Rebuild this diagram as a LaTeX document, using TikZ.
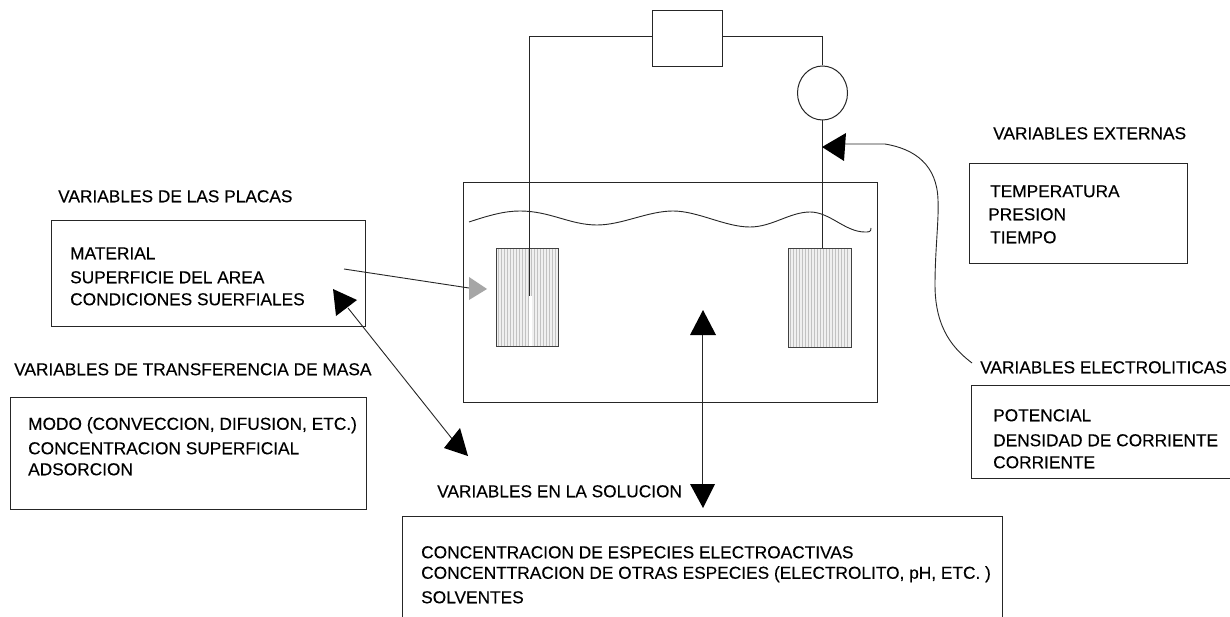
\documentclass[tikz,border=0pt]{standalone}
\usepackage{fontspec}
\setmainfont{Liberation Sans}[FakeBold=0.2]
\usetikzlibrary{calc,shapes.geometric}
\tikzset{
  x=1pt,y=-1pt,
  wire/.style={draw=black!85,line width=1pt},
  thin wire/.style={draw=black!85,line width=0.9pt},
  boxed/.style={draw=black!85,line width=1pt,inner sep=0,anchor=north west},
  lbl/.style={anchor=west,inner sep=0,yshift=-0.3pt,font=\fontsize{17.3}{19}\selectfont,text=black},
  head/.style={fill=black,draw=none},
  plate/.style={draw=black!75,line width=1pt},
  hatch/.style={draw=black!24,line width=1.5pt},
}
\begin{document}
\begin{tikzpicture}
\useasboundingbox (0,0) rectangle (1230,617);
\fill[white] (0,0) rectangle (1230,617);

% plates
\fill[black!6] (496.5,248.5) rectangle (558.5,346.5);
\fill[black!6] (788.5,248.5) rectangle (851.5,347.5);
\foreach \k in {2,5,...,60}{\draw[hatch] ({496.5+\k},248.5) -- ({496.5+\k},346.5);}
\foreach \k in {2,5,...,60}{\draw[hatch] ({788.5+\k},248.5) -- ({788.5+\k},347.5);}
\fill[white] (529,296) rectangle (531.5,346);
\draw[plate] (496.5,248.5) rectangle (558.5,346.5);
\draw[plate] (788.5,248.5) rectangle (851.5,347.5);
% cell and circuit
\node[boxed,minimum width=414pt,minimum height=219pt] (cell) at (462.5,182.5) {};
\node[boxed,minimum width=70pt,minimum height=56pt] (source) at (651.5,10.5) {};
\node[draw=black!85,line width=1pt,ellipse,minimum width=50pt,minimum height=54pt,inner sep=0] (meter) at (822.5,93) {};
\coordinate (platea) at (529.5,296);
\coordinate (plateb) at (822.5,248.5);
\coordinate (corna) at (529.5,36.5);
\coordinate (cornb) at (822.5,36.5);
\draw[wire] (source.west |- corna) -- (corna) -- (platea);
\draw[wire] (source.east |- cornb) -- (cornb) -- (meter.north);
\draw[wire] (meter.south) -- (plateb);
% liquid level
\coordinate (w0) at (469,222);
\coordinate (w1) at (871,228);
\draw[thin wire] (w0) .. controls (490,215) and (505,211) .. (520,211)
  .. controls (550,211) and (570,225) .. (597,225)
  .. controls (622,225) and (648,211) .. (673,211)
  .. controls (698,211) and (725,227) .. (750,227)
  .. controls (772,227) and (790,212) .. (810,212)
  .. controls (830,212) and (845,232) .. (865,232)
  .. controls (869,232) and (871,232) .. (w1);

% labels
\node[lbl] (tplacas) at (58,196) {VARIABLES DE LAS PLACAS};
\node[boxed,minimum width=314pt,minimum height=105pt] (bplacas) at (50.5,220.5) {};
\node[lbl] (p1) at (70,253) {MATERIAL};
\node[lbl] (p2) at (70,277) {SUPERFICIE DEL AREA};
\node[lbl] (p3) at (70,299) {CONDICIONES SUERFIALES};

\node[lbl] (tmasa) at (14,369) {VARIABLES DE TRANSFERENCIA DE MASA};
\node[boxed,minimum width=356pt,minimum height=112pt] (bmasa) at (9.5,396.5) {};
\node[lbl] (m1) at (28,425) {MODO (CONVECCION, DIFUSION, ETC.)};
\node[lbl] (m2) at (28,448) {CONCENTRACION SUPERFICIAL};
\node[lbl] (m3) at (28,469) {ADSORCION};

\node[lbl] (tsol) at (437,491) {VARIABLES EN LA SOLUCION};
\coordinate (s0) at (402.5,617);
\coordinate (s1) at (402.5,516.5);
\coordinate (s2) at (1002.5,516.5);
\coordinate (s3) at (1002.5,617);
\draw[wire] (s0) -- (s1) -- (s2) -- (s3);
\node[lbl] (s4) at (421,552) {CONCENTRACION DE ESPECIES ELECTROACTIVAS};
\node[lbl] (s5) at (421,574) {CONCENTTRACION DE OTRAS ESPECIES (ELECTROLITO, pH, ETC. )};
\node[lbl] (s6) at (421,597) {SOLVENTES};

\node[lbl] (text) at (993,133) {VARIABLES EXTERNAS};
\node[boxed,minimum width=218pt,minimum height=100pt] (bext) at (968.5,163.5) {};
\node[lbl] (e1) at (990,191) {TEMPERATURA};
\node[lbl] (e2) at (988,214) {PRESION};
\node[lbl] (e3) at (990,237) {TIEMPO};

\node[lbl] (telec) at (980,367) {VARIABLES ELECTROLITICAS};
\coordinate (l0) at (1230,385.5);
\coordinate (l1) at (971.5,385.5);
\coordinate (l2) at (971.5,478.5);
\coordinate (l3) at (1230,478.5);
\draw[wire] (l0) -- (l1) -- (l2) -- (l3);
\node[lbl] (c1) at (993,415) {POTENCIAL};
\node[lbl] (c2) at (993,440) {DENSIDAD DE CORRIENTE};
\node[lbl] (c3) at (993,462) {CORRIENTE};

% arrows
\coordinate (a0) at (344,269);
\coordinate (a1) at (469,288);
\draw[thin wire] (a0) -- (a1);
\fill[black!35] (487,289) -- (469,277) -- (469,300) -- cycle;

\coordinate (b0) at (348,308);
\coordinate (b1) at (453,440);
\draw[thin wire] (b0) -- (b1);
\fill[head] (333,289) -- (357,300) -- (336,316) -- cycle;
\fill[head] (468,456) -- (460,428) -- (444,448) -- cycle;

\coordinate (d0) at (702.5,334);
\coordinate (d1) at (702.5,484);
\draw[wire] (d0) -- (d1);
\fill[head] (703,310) -- (690,335) -- (716,335) -- cycle;
\fill[head] (703,508) -- (690,484) -- (715,484) -- cycle;

\coordinate (f0) at (972,363);
\coordinate (f1) at (845,144);
\draw[thin wire] (f0) .. controls (955,350) and (935,330) .. (935,285)
  .. controls (935,250) and (939,220) .. (938,200)
  .. controls (937,165) and (915,149) .. (885,144) -- (f1);
\fill[head] (822,147) -- (846,133) -- (844,161) -- cycle;
\end{tikzpicture}
\end{document}
